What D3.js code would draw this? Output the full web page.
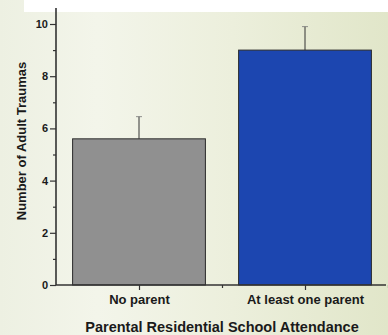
<!DOCTYPE html>
<html>
<head>
<meta charset="utf-8">
<script src="https://cdn.jsdelivr.net/npm/d3@7"></script>
<style>
  html, body { margin: 0; padding: 0; background: #fff; }
  svg { display: block; }
  text { font-family: "Liberation Sans", Arial, sans-serif; font-weight: bold; fill: #1a1a1a; }
</style>
</head>
<body>
<svg id="chart" width="388" height="335"></svg>
<script>
const categories = ["No parent", "At least one parent"];
const means = [5.6, 9.0];
const errorTops = [6.45, 9.9];
const barColors = ["#909090", "#1c46b0"];
const yTicks = [0, 2, 4, 6, 8, 10];
const yMinorTicks = [1, 3, 5, 7, 9];
const xTitle = "Parental Residential School Attendance";
const yTitle = "Number of Adult Traumas";

const W = 388, H = 335;
const svg = d3.select("#chart");

// background
const defs = svg.append("defs");
const grad = defs.append("linearGradient").attr("id", "bg").attr("x1", "0").attr("x2", "1").attr("y1", "0").attr("y2", "0");
grad.append("stop").attr("offset", "0").attr("stop-color", "#edf0e2");
grad.append("stop").attr("offset", "0.25").attr("stop-color", "#f3f5ea");
grad.append("stop").attr("offset", "0.6").attr("stop-color", "#ecefdc");
grad.append("stop").attr("offset", "1").attr("stop-color", "#e1e6c9");
svg.append("rect").attr("width", W).attr("height", H).attr("fill", "url(#bg)");
svg.append("rect").attr("x", 24).attr("y", 0).attr("width", W - 24).attr("height", 12).attr("fill", "#ffffff");

const axisX0 = 56, axisY0 = 285;
const x = d3.scaleLinear().domain([0.5, 2.5]).range([axisX0, 388]);
const y = d3.scaleLinear().domain([0, 10]).range([axisY0, 24]);
const barW = x(1.3) - x(0.5);

const g = svg.append("g");

// bars
g.selectAll("rect.bar").data(means).join("rect")
  .attr("class", "bar")
  .attr("x", (d, i) => x(i + 1) - barW / 2)
  .attr("y", d => y(d))
  .attr("width", barW)
  .attr("height", d => y(0) - y(d))
  .attr("fill", (d, i) => barColors[i])
  .attr("stroke", "#2a2a2a")
  .attr("stroke-width", 1);

// error bars (upper only)
g.selectAll("line.err").data(errorTops).join("line")
  .attr("class", "err")
  .attr("x1", (d, i) => x(i + 1)).attr("x2", (d, i) => x(i + 1))
  .attr("y1", (d, i) => y(means[i])).attr("y2", d => y(d))
  .attr("stroke", "#333").attr("stroke-width", 1);
g.selectAll("line.cap").data(errorTops).join("line")
  .attr("class", "cap")
  .attr("x1", (d, i) => x(i + 1) - 3).attr("x2", (d, i) => x(i + 1) + 3)
  .attr("y1", d => y(d)).attr("y2", d => y(d))
  .attr("stroke", "#777").attr("stroke-width", 0.8);

// y axis
const yAxis = d3.axisLeft(y).tickValues(yTicks).tickSize(6).tickPadding(2).tickFormat(d3.format("d"));
const ya = svg.append("g").attr("transform", `translate(${axisX0},0)`).call(yAxis);
ya.select(".domain").remove();
ya.selectAll("line").attr("stroke", "#333").attr("stroke-width", 1.2);
ya.selectAll("text").style("font-size", "11px").style("font-family", "Liberation Sans, Arial, sans-serif").style("font-weight", "bold").attr("fill", "#1a1a1a");
const yMinor = d3.axisLeft(y).tickValues(yMinorTicks).tickSize(3).tickFormat("");
const ym = svg.append("g").attr("transform", `translate(${axisX0},0)`).call(yMinor);
ym.select(".domain").remove();
ym.selectAll("line").attr("stroke", "#333").attr("stroke-width", 1.2);
svg.append("line").attr("x1", axisX0).attr("x2", axisX0).attr("y1", 8).attr("y2", axisY0)
  .attr("stroke", "#333").attr("stroke-width", 1.6);

// x axis
const xAxis = d3.axisBottom(x).tickValues([1, 2]).tickSize(5).tickPadding(5).tickFormat((d) => categories[d - 1]);
const xa = svg.append("g").attr("transform", `translate(0,${axisY0})`).call(xAxis);
xa.select(".domain").remove();
xa.selectAll("line").attr("stroke", "#333").attr("stroke-width", 1.2);
xa.selectAll("text").style("font-size", "13px").style("font-family", "Liberation Sans, Arial, sans-serif").style("font-weight", "bold").attr("fill", "#1a1a1a");
const xMinor = d3.axisBottom(x).tickValues([1.5, 2.5]).tickSize(3).tickFormat("");
const xm = svg.append("g").attr("transform", `translate(0,${axisY0})`).call(xMinor);
xm.select(".domain").remove();
xm.selectAll("line").attr("stroke", "#333").attr("stroke-width", 1.2);
svg.append("line").attr("x1", axisX0).attr("x2", 386).attr("y1", axisY0).attr("y2", axisY0)
  .attr("stroke", "#333").attr("stroke-width", 1.6);

// titles
svg.append("text").attr("x", (x(0.5) + x(2.5)) / 2).attr("y", 332)
  .attr("text-anchor", "middle").style("font-size", "14.5px").text(xTitle);
svg.append("text").attr("transform", "translate(26,141) rotate(-90)")
  .attr("text-anchor", "middle").style("font-size", "13px").text(yTitle);
</script>
</body>
</html>
